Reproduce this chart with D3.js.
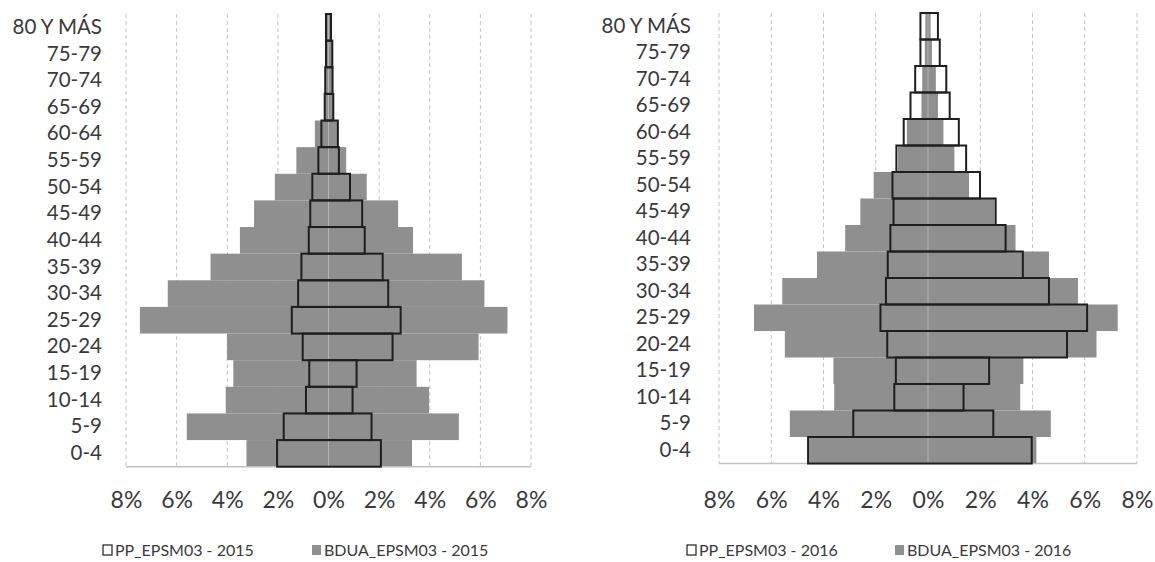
<!DOCTYPE html>
<html>
<head>
<meta charset="utf-8">
<script src="https://cdn.jsdelivr.net/npm/d3@7"></script>
<style>
  html, body { margin: 0; padding: 0; background: #fff; }
  svg { display: block; font-family: Lato, "Open Sans", sans-serif; }
</style>
</head>
<body>
<svg id="chart" width="1155" height="562"></svg>
<script>
// grupos de edad (de abajo hacia arriba)
const ageGroups = ['0-4','5-9','10-14','15-19','20-24','25-29','30-34','35-39','40-44',
                   '45-49','50-54','55-59','60-64','65-69','70-74','75-79','80 Y MÁS'];

// 2015 (porcentajes, lado izquierdo / derecho)
const bduaLeft2015  = [3.24, 5.6, 4.06, 3.76, 4.01, 7.45, 6.35, 4.66, 3.5, 2.94, 2.12, 1.27, 0.54, 0.15, 0.13, 0.1, 0.1];
const bduaRight2015 = [3.3, 5.15, 3.97, 3.48, 5.93, 7.07, 6.16, 5.27, 3.34, 2.75, 1.51, 0.7, 0.35, 0.19, 0.16, 0.15, 0.1];
const ppLeft2015    = [2.03, 1.77, 0.89, 0.76, 1.02, 1.45, 1.2, 1.07, 0.78, 0.72, 0.64, 0.4, 0.28, 0.15, 0.13, 0.1, 0.1];
const ppRight2015   = [2.07, 1.7, 0.95, 1.11, 2.53, 2.85, 2.36, 2.14, 1.43, 1.33, 0.85, 0.41, 0.37, 0.19, 0.16, 0.15, 0.1];

// 2016
const bduaLeft2016  = [4.55, 5.29, 3.59, 3.62, 5.48, 6.66, 5.58, 4.25, 3.17, 2.59, 2.08, 1.15, 0.81, 0.25, 0.22, 0.12, 0.1];
const bduaRight2016 = [4.15, 4.7, 3.53, 3.65, 6.45, 7.26, 5.74, 4.63, 3.35, 2.55, 1.57, 1.01, 0.59, 0.38, 0.3, 0.15, 0.1];
const ppLeft2016    = [4.59, 2.86, 1.29, 1.23, 1.56, 1.82, 1.61, 1.54, 1.44, 1.32, 1.36, 1.21, 0.93, 0.67, 0.49, 0.29, 0.29];
const ppRight2016   = [3.97, 2.5, 1.36, 2.34, 5.32, 6.09, 4.63, 3.63, 2.97, 2.59, 1.99, 1.46, 1.18, 0.83, 0.7, 0.45, 0.38];

const xTicks = [-8, -6, -4, -2, 0, 2, 4, 6, 8];

const GRAY = '#8f8f8f';
const OUTLINE = '#1e1e1e';
const TEXT = '#3a3a3a';

const svg = d3.select('#chart');

function pyramid(opt) {
  const x = d3.scaleLinear().domain([-8, 8]).range([opt.x0, opt.x1]);
  const y = d3.scaleBand().domain(ageGroups.slice().reverse()).range([opt.top, opt.bottom]).padding(0);
  const g = svg.append('g');

  // rejilla punteada
  g.append('g').selectAll('line')
    .data(xTicks.filter(d => d !== 0))
    .join('line')
      .attr('x1', d => x(d)).attr('x2', d => x(d))
      .attr('y1', opt.top).attr('y2', opt.bottom)
      .attr('stroke', '#c4c4c4')
      .attr('stroke-width', 1)
      .attr('stroke-dasharray', '4,3');

  // barras BDUA (gris)
  g.append('g').selectAll('rect')
    .data(ageGroups.map((a, i) => ({ age: a, l: opt.bduaL[i], r: opt.bduaR[i] })))
    .join('rect')
      .attr('x', d => x(-d.l))
      .attr('y', d => y(d.age))
      .attr('width', d => x(d.r) - x(-d.l))
      .attr('height', y.bandwidth())
      .attr('fill', GRAY);

  // eje central
  g.append('line')
    .attr('x1', x(0)).attr('x2', x(0))
    .attr('y1', opt.top).attr('y2', opt.bottom)
    .attr('stroke', '#b4b4b4').attr('stroke-width', 1);

  // línea base
  g.append('line')
    .attr('x1', x(-8)).attr('x2', x(8))
    .attr('y1', opt.bottom).attr('y2', opt.bottom)
    .attr('stroke', '#c2c2c2').attr('stroke-width', 1.5);

  // barras PP (contorno)
  g.append('g').selectAll('rect')
    .data(ageGroups.map((a, i) => ({ age: a, l: opt.ppL[i], r: opt.ppR[i] })))
    .join('rect')
      .attr('x', d => x(-d.l))
      .attr('y', d => y(d.age))
      .attr('width', d => x(d.r) - x(-d.l))
      .attr('height', y.bandwidth())
      .attr('fill', 'none')
      .attr('stroke', OUTLINE)
      .attr('stroke-width', 2);

  // eje X
  const ax = g.append('g')
    .attr('transform', `translate(0,${opt.tickY})`)
    .call(d3.axisBottom(x).tickValues(xTicks).tickSize(0).tickPadding(0)
      .tickFormat(d => Math.abs(d) + '%'));
  ax.select('.domain').remove();
  ax.selectAll('text').attr('font-size', 23).attr('fill', TEXT)
    .attr('font-family', 'Lato, sans-serif');

  // eje Y (etiquetas)
  const ay = g.append('g')
    .attr('transform', `translate(${opt.labelX},0)`)
    .call(d3.axisLeft(y).tickSize(0).tickPadding(0));
  ay.select('.domain').remove();
  ay.selectAll('text').attr('font-size', 20.5).attr('fill', TEXT)
    .attr('font-family', 'Lato, sans-serif');

  // leyenda
  const lg = g.append('g').attr('font-size', 16).attr('fill', TEXT);
  const items = [
    { x: opt.legX[0], label: 'PP_EPSM03 - ' + opt.year, fill: '#fff', stroke: OUTLINE },
    { x: opt.legX[1], label: 'BDUA_EPSM03 - ' + opt.year, fill: GRAY, stroke: 'none' }
  ];
  items.forEach(it => {
    lg.append('rect')
      .attr('x', it.x).attr('y', opt.legY - 5)
      .attr('width', 9).attr('height', 10)
      .attr('fill', it.fill).attr('stroke', it.stroke).attr('stroke-width', 1.2);
    lg.append('text')
      .attr('x', it.x + 12).attr('y', opt.legY)
      .attr('dy', '0.35em')
      .text(it.label);
  });
}

pyramid({
  x0: 126, x1: 531, top: 14, bottom: 466.7, tickY: 491.5, labelX: 102,
  bduaL: bduaLeft2015, bduaR: bduaRight2015, ppL: ppLeft2015, ppR: ppRight2015,
  year: '2015', legX: [103, 312], legY: 550
});

pyramid({
  x0: 719, x1: 1137, top: 13, bottom: 463.5, tickY: 491.3, labelX: 691,
  bduaL: bduaLeft2016, bduaR: bduaRight2016, ppL: ppLeft2016, ppR: ppRight2016,
  year: '2016', legX: [687, 895], legY: 550
});
</script>
</body>
</html>
